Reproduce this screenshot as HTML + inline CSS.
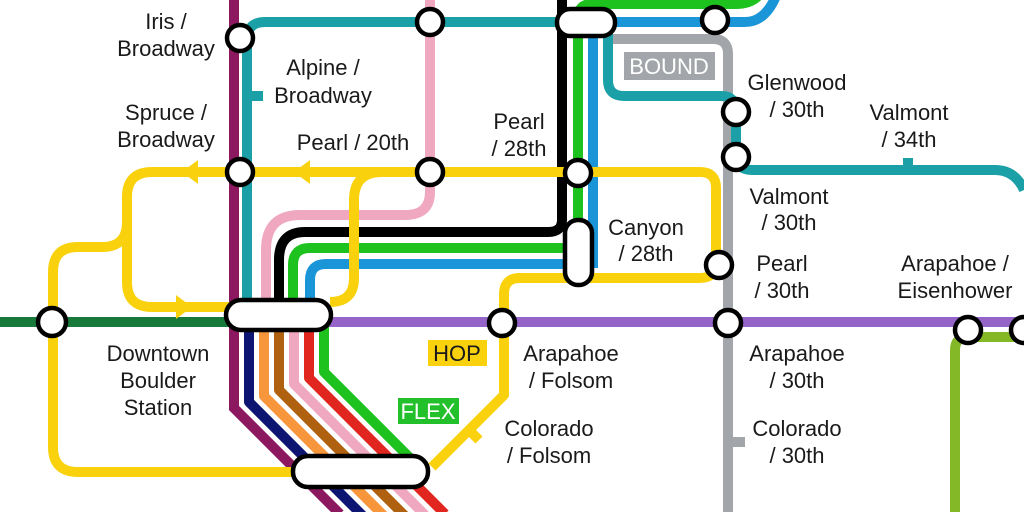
<!DOCTYPE html>
<html><head><meta charset="utf-8"><style>
html,body{margin:0;padding:0;background:#fff;}
svg{display:block;}
text{font-family:"Liberation Sans",Arial,sans-serif;font-size:22px;fill:#1a1a1a;}
</style></head><body>
<svg width="1024" height="512" viewBox="0 0 1024 512" xmlns="http://www.w3.org/2000/svg">
<g fill="none" stroke-width="10" stroke-linejoin="round">
<line x1="0" y1="322" x2="240" y2="322" stroke="#17793a"/>
<line x1="320" y1="322" x2="1024" y2="322" stroke="#9464c8"/>
<path d="M955 512 V350 Q955 337 968 337 H1024" stroke="#84b826"/>
<path d="M610 39 H713 Q728 39 728 54 V512" stroke="#a2a6aa"/>
<line x1="728" y1="442" x2="745" y2="442" stroke="#a2a6aa"/>
<path d="M247 312 V40 Q247 22 265 22 H580" stroke="#1aa0a6"/>
<line x1="247" y1="96" x2="263" y2="96" stroke="#1aa0a6"/>
<path d="M608 30 V80 Q608 96 624 96 H722 Q736 96 736 112 V155 Q736 170 752 170 H995 Q1015 170 1024 190" stroke="#1aa0a6"/>
<line x1="908" y1="158" x2="908" y2="170" stroke="#1aa0a6"/>
<path d="M234 0 V408 L340 514" stroke="#8c1860" stroke-linejoin="miter"/>
<path d="M249 315 V402 L355 508 L365 518" stroke="#0d1572"/>
<path d="M264 315 V396 L385 517" stroke="#f7963a"/>
<path d="M279 315 V390 L405 516" stroke="#b0610f"/>
<path d="M294 315 V384 L425 515" stroke="#f0a8c0"/>
<path d="M309 315 V378 L445 514" stroke="#e0261e"/>
<path d="M324 315 V372 L420 468" stroke="#1ec21e"/>
<path d="M430 0 V192 Q430 215 405 215 H300 Q266 215 266 250 V305" stroke="#f0a8c0"/>
<path d="M562 0 V220 Q562 232 548 232 H305 Q279 232 279 260 V305" stroke="#000"/>
<path d="M578 250 V18 Q578 4 592 4 H735 Q752 4 760 -6" stroke="#1ec21e"/>
<path d="M578 248 H310 Q293 248 293 265 V305" stroke="#1ec21e"/>
<path d="M593 268 V22 H745 Q765 22 776 -4" stroke="#1a96d8"/>
<path d="M593 264 H326 Q310 264 310 280 V305" stroke="#1a96d8"/>
<g stroke="#f9d10d">
<path d="M240 172 H700 Q716 172 716 188 V262 Q716 278 700 278 H520 Q504 278 504 294 V395 L432 467"/>
<line x1="469" y1="430" x2="479" y2="440" stroke-linecap="butt"/>
<path d="M330 302 Q354 302 354 278 V200 Q354 172 382 172"/>
<path d="M240 172 H152 Q127 172 127 197 V282 Q127 307 152 307 H232"/>
<path d="M127 222 Q127 247 102 247 H78 Q53 247 53 272 V447 Q53 472 78 472 H300"/>
</g>
</g>
<g fill="#f9d10d">
<polygon points="182,172 198,160 198,184"/>
<polygon points="294,172 310,160 310,184"/>
<polygon points="192,307 176,295 176,319"/>
</g>
<g fill="#fff" stroke="#000" stroke-width="4.5">
<circle cx="240" cy="38" r="13"/>
<circle cx="430" cy="22" r="13"/>
<circle cx="715" cy="20" r="13"/>
<circle cx="240" cy="172" r="13"/>
<circle cx="430" cy="172" r="13"/>
<circle cx="578" cy="173" r="13"/>
<circle cx="736" cy="112" r="13"/>
<circle cx="736" cy="157" r="13"/>
<circle cx="719" cy="265" r="13"/>
<circle cx="52" cy="322" r="14"/>
<circle cx="502" cy="323" r="13"/>
<circle cx="728" cy="323" r="13"/>
<circle cx="968" cy="330" r="13"/>
<circle cx="1024" cy="330" r="13"/>
<rect x="557" y="9" width="58" height="27" rx="13"/>
<rect x="565" y="220" width="27" height="65" rx="13"/>
<rect x="226" y="300" width="105" height="30" rx="15"/>
<rect x="293" y="456" width="135" height="31" rx="15"/>
</g>
<rect x="428" y="340" width="59" height="26" fill="#f9d10d"/>
<text x="457" y="361" text-anchor="middle">HOP</text>
<rect x="398" y="398" width="61" height="26" fill="#22c02a"/>
<text x="428" y="419" text-anchor="middle" style="fill:#fff">FLEX</text>
<rect x="624" y="52" width="91" height="28" fill="#a2a6aa"/>
<text x="669" y="74" text-anchor="middle" style="fill:#fff">BOUND</text>
<g text-anchor="middle">
<text x="166" y="29">Iris /</text><text x="166" y="56">Broadway</text>
<text x="323" y="75">Alpine /</text><text x="323" y="103">Broadway</text>
<text x="166" y="120">Spruce /</text><text x="166" y="147">Broadway</text>
<text x="353" y="150">Pearl / 20th</text>
<text x="519" y="129">Pearl</text><text x="519" y="156">/ 28th</text>
<text x="646" y="235">Canyon</text><text x="646" y="261">/ 28th</text>
<text x="797" y="90">Glenwood</text><text x="797" y="117">/ 30th</text>
<text x="909" y="120">Valmont</text><text x="909" y="147">/ 34th</text>
<text x="789" y="204">Valmont</text><text x="789" y="230">/ 30th</text>
<text x="782" y="271">Pearl</text><text x="782" y="298">/ 30th</text>
<text x="955" y="271">Arapahoe /</text><text x="955" y="298">Eisenhower</text>
<text x="158" y="361">Downtown</text><text x="158" y="388">Boulder</text><text x="158" y="415">Station</text>
<text x="571" y="361">Arapahoe</text><text x="571" y="388">/ Folsom</text>
<text x="549" y="436">Colorado</text><text x="549" y="463">/ Folsom</text>
<text x="797" y="361">Arapahoe</text><text x="797" y="388">/ 30th</text>
<text x="797" y="436">Colorado</text><text x="797" y="463">/ 30th</text>
</g>
</svg>
</body></html>
